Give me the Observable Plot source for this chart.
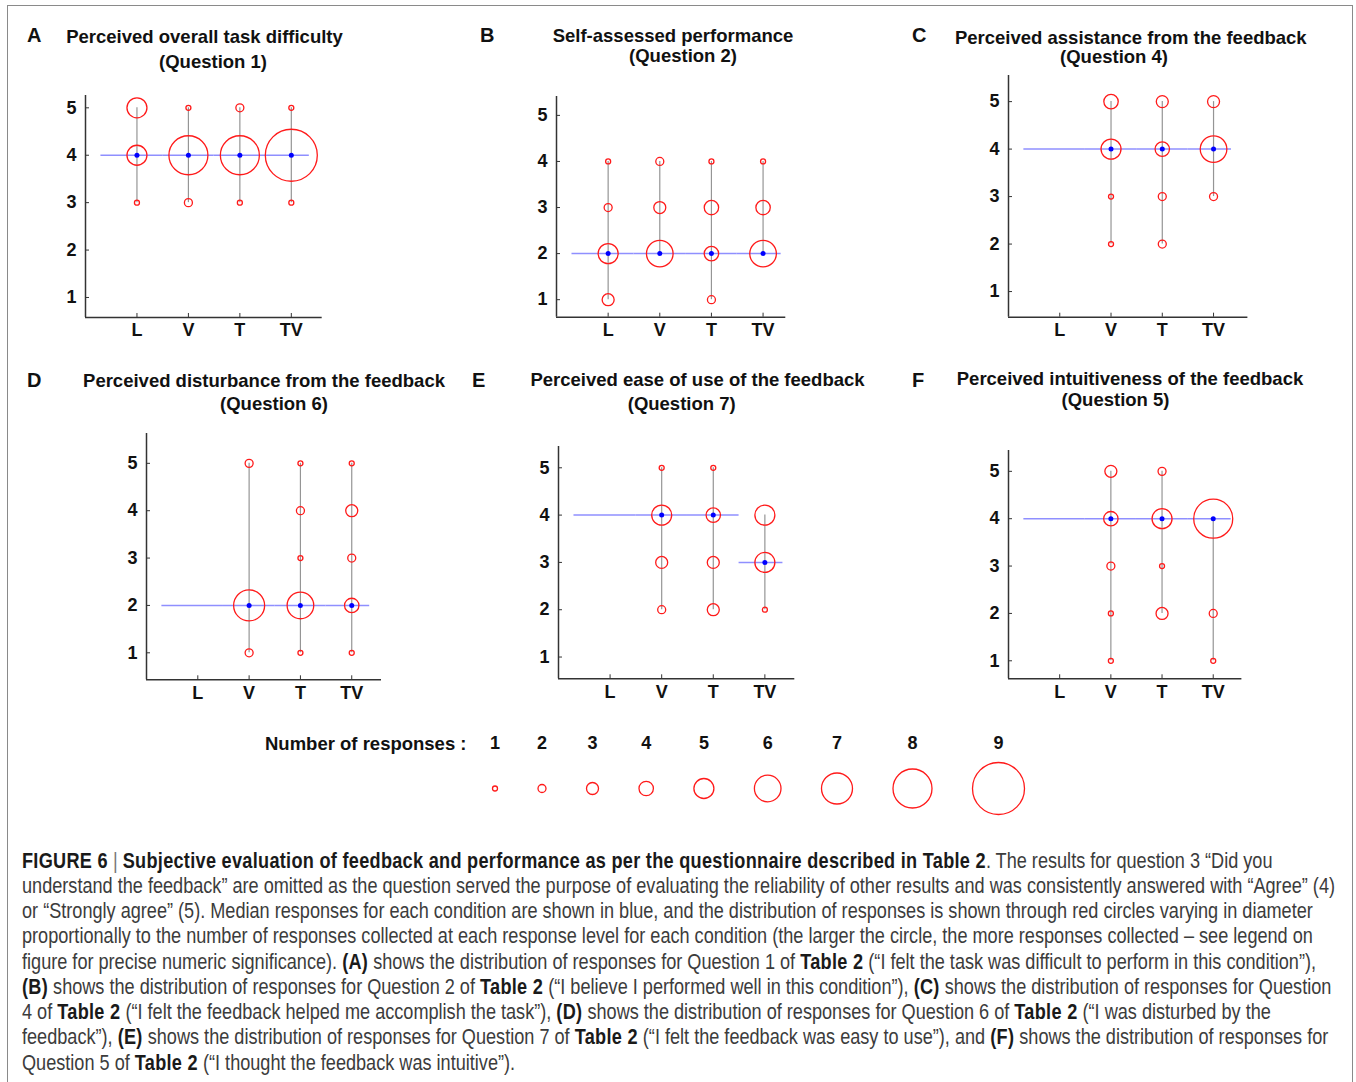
<!DOCTYPE html>
<html><head><meta charset="utf-8">
<script src="https://cdn.jsdelivr.net/npm/d3@7"></script>
<script src="https://cdn.jsdelivr.net/npm/@observablehq/plot@0.6"></script>
<style>
body{margin:0;background:#fff;}
#fig{position:relative;width:1356px;height:1082px;overflow:hidden;font-family:"Liberation Sans",Arial,sans-serif;}
.frame{position:absolute;left:7px;top:5px;width:1346px;height:1100px;border:1px solid #8a8a8a;box-sizing:border-box;}
.lbl{position:absolute;font-weight:bold;font-size:20px;color:#111;line-height:1;transform:translate(0,-50%);}
.ttl{position:absolute;font-weight:bold;font-size:18.5px;color:#111;white-space:nowrap;transform:translate(-50%,-50%);line-height:1;}
.panel{position:absolute;}
.panel svg{overflow:visible;}
#legendTitle{position:absolute;left:265px;top:744px;transform:translate(0,-50%);font-weight:bold;font-size:18.5px;color:#111;line-height:1;white-space:nowrap;}
#caption{position:absolute;left:22px;top:848.5px;font-family:"Liberation Sans",Arial,sans-serif;font-size:21.5px;line-height:25.25px;color:#3c3c3c;transform-origin:0 0;}
#caption div{white-space:nowrap;width:max-content;}
#caption b{color:#1a1a1a;letter-spacing:0.35px;}
</style></head><body><div id="fig"><div class="frame"></div></div>
<script>
// ---------- data ----------
const conditions = ["L", "V", "T", "TV"];
const levels = [1, 2, 3, 4, 5];
const countLevels = [1, 2, 3, 4, 5, 6, 7, 8, 9];
// number of responses per condition [L, V, T, TV] at response levels 1..5
const q1Counts = [[0,0,1,5,5],[0,0,2,8,1],[0,0,1,8,2],[0,0,1,9,1]];
const q1Medians = [4, 4, 4, 4];
const q2Counts = [[3,5,2,1,0],[0,6,3,2,0],[2,4,4,1,0],[0,6,4,1,0]];
const q2Medians = [2, 2, 2, 2];
const q4Counts = [[0,0,0,0,0],[0,1,1,5,4],[0,2,2,4,3],[0,0,2,6,3]];
const q4Medians = [null, 4, 4, 4];
const q6Counts = [[0,0,0,0,0],[2,7,0,0,2],[1,6,1,2,1],[1,4,2,3,1]];
const q6Medians = [null, 2, 2, 2];
const q7Counts = [[0,0,0,0,0],[0,2,3,5,1],[0,3,3,4,1],[0,1,5,5,0]];
const q7Medians = [null, 4, 4, 3];
const q5Counts = [[0,0,0,0,0],[1,1,2,4,3],[0,3,1,5,2],[1,2,0,8,0]];
const q5Medians = [null, 4, 4, 4];

// ---------- styling / layout ----------
const radii = [2.5, 4, 6, 7.2, 10, 13.3, 15.5, 19.5, 26];
const rScaleOpts = {type: "linear", domain: [0, ...countLevels], range: [0, ...radii]};
const RED = "#ff1a1a", BLUE = "#0000ff", MEDLINE = "#8f8fff", STEM = "#959595", AXIS = "#333";
const FONT = "Liberation Sans, Arial, sans-serif";

const panels = [
  {letter: "A", lpos: [27, 35], title: ["Perceived overall task difficulty", "(Question 1)"], t1: [204.5, 36.7], t2: [213, 61.5],
   counts: q1Counts, medians: q1Medians, box: [85, 95, 321.7, 317], xmax: 4.6, ydom: [0.578, 5.26]},
  {letter: "B", lpos: [480, 35], title: ["Self-assessed performance", "(Question 2)"], t1: [673, 36], t2: [683, 55.5],
   counts: q2Counts, medians: q2Medians, box: [555.7, 96, 785, 316.7], xmax: 4.44, ydom: [0.62, 5.41]},
  {letter: "C", lpos: [912, 35], title: ["Perceived assistance from the feedback", "(Question 4)"], t1: [1130.8, 38], t2: [1114, 57],
   counts: q4Counts, medians: q4Medians, box: [1008.3, 75, 1247.7, 316.7], xmax: 4.67, ydom: [0.46, 5.55]},
  {letter: "D", lpos: [27, 380], title: ["Perceived disturbance from the feedback", "(Question 6)"], t1: [264, 381], t2: [274, 404],
   counts: q6Counts, medians: q6Medians, box: [145.7, 432.7, 380.7, 679], xmax: 4.58, ydom: [0.43, 5.63]},
  {letter: "E", lpos: [472, 380], title: ["Perceived ease of use of the feedback", "(Question 7)"], t1: [697.5, 380], t2: [681.7, 404],
   counts: q7Counts, medians: q7Medians, box: [557.7, 446, 794, 678.3], xmax: 4.58, ydom: [0.54, 5.45]},
  {letter: "F", lpos: [912, 380], title: ["Perceived intuitiveness of the feedback", "(Question 5)"], t1: [1130, 379.3], t2: [1115.5, 399.5],
   counts: q5Counts, medians: q5Medians, box: [1008.3, 450, 1241.7, 678.3], xmax: 4.56, ydom: [0.62, 5.44]}
];

const fig = document.getElementById("fig");
function addDiv(cls, text, x, y) {
  const d = document.createElement("div");
  if (cls) d.className = cls;
  d.textContent = text;
  d.style.left = x + "px"; d.style.top = y + "px";
  fig.appendChild(d);
  return d;
}

for (const p of panels) {
  addDiv("lbl", p.letter, p.lpos[0], p.lpos[1]);
  addDiv("ttl", p.title[0], p.t1[0], p.t1[1]);
  addDiv("ttl", p.title[1], p.t2[0], p.t2[1]);

  const [L, T, R, B] = p.box;
  const mL = 45, mR = 35, mT = 15, mB = 35;
  const dots = [], stems = [], meds = [], segs = [];
  p.counts.forEach((arr, ci) => {
    const lv = [];
    arr.forEach((n, li) => { if (n > 0) { dots.push({x: ci + 1, y: levels[li], n}); lv.push(levels[li]); } });
    if (lv.length) stems.push({x: ci + 1, y1: d3.min(lv), y2: d3.max(lv)});
    if (p.medians[ci] != null) meds.push({x: ci + 1, y: p.medians[ci]});
  });
  const filled = p.medians.map((m, i) => m ?? p.medians.slice(i).find(v => v != null));
  filled.forEach((m, i) => segs.push({x1: i === 0 ? 0.3 : i + 0.5, x2: i === filled.length - 1 ? 4.35 : i + 1.5, y: m}));

  const chart = Plot.plot({
    width: (R - L) + mL + mR, height: (B - T) + mT + mB,
    marginLeft: mL, marginRight: mR, marginTop: mT, marginBottom: mB,
    x: {domain: [0, p.xmax]},
    y: {domain: p.ydom},
    r: rScaleOpts,
    style: {overflow: "visible", fontFamily: FONT, background: "transparent", color: "#111"},
    marks: [
      Plot.ruleX([0], {stroke: AXIS, strokeWidth: 1.5}),
      Plot.ruleY([p.ydom[0]], {stroke: AXIS, strokeWidth: 1.5}),
      Plot.axisY({ticks: levels, tickSize: 0, tickPadding: 9, tickFormat: d => String(d), fontSize: 18, fontWeight: "bold", label: null}),
      Plot.axisY({ticks: levels, tickSize: -4, tickFormat: () => "", stroke: AXIS, label: null}),
      Plot.axisX({ticks: [1, 2, 3, 4], tickSize: 0, tickPadding: 6, tickFormat: i => conditions[i - 1], fontSize: 18, fontWeight: "bold", label: null}),
      Plot.axisX({ticks: [1, 2, 3, 4], tickSize: -4, tickFormat: () => "", stroke: AXIS, label: null}),
      Plot.ruleX(stems, {x: "x", y1: "y1", y2: "y2", stroke: STEM, strokeWidth: 1.2}),
      Plot.ruleY(segs, {y: "y", x1: "x1", x2: "x2", stroke: MEDLINE, strokeWidth: 1.5}),
      Plot.dot(dots, {x: "x", y: "y", r: "n", stroke: RED, strokeWidth: 1.3, fill: "none"}),
      Plot.dot(meds, {x: "x", y: "y", r: 2.5, fill: BLUE, stroke: "none"})
    ]
  });
  const holder = document.createElement("div");
  holder.className = "panel";
  holder.style.left = (L - mL) + "px";
  holder.style.top = (T - mT) + "px";
  holder.appendChild(chart);
  fig.appendChild(holder);
}

// ---------- legend ----------
const lt = addDiv("", "Number of responses :", 265, 744);
lt.id = "legendTitle";
const rS = d3.scaleLinear(rScaleOpts.domain, rScaleOpts.range);
const legendItems = [];
let cx = 494.5;
countLevels.forEach((n, i) => {
  if (i > 0) cx += rS(countLevels[i - 1]) + rS(n) + 40.5;
  legendItems.push({n, x: cx});
});
const legTop = 720;
const legend = Plot.plot({
  width: 1356, height: 110, margin: 0,
  x: {type: "identity", axis: null}, y: {type: "identity", axis: null},
  r: rScaleOpts,
  style: {overflow: "visible", fontFamily: FONT, background: "transparent", color: "#111"},
  marks: [
    Plot.text(legendItems, {x: "x", y: () => 743 - legTop, text: d => String(d.n), fontSize: 18, fontWeight: "bold", fill: "#111"}),
    Plot.dot(legendItems, {x: "x", y: () => 788 - legTop, r: "n", stroke: RED, strokeWidth: 1.3, fill: "none"})
  ]
});
const lh = document.createElement("div");
lh.className = "panel"; lh.style.left = "0px"; lh.style.top = legTop + "px";
lh.appendChild(legend);
fig.appendChild(lh);

// ---------- caption ----------
const captionLines = [
  '<b>FIGURE 6</b> <span style="color:#777;font-weight:normal">|</span> <b>Subjective evaluation of feedback and performance as per the questionnaire described in Table 2</b>. The results for question 3 \u201cDid you',
  'understand the feedback\u201d are omitted as the question served the purpose of evaluating the reliability of other results and was consistently answered with \u201cAgree\u201d (4)',
  'or \u201cStrongly agree\u201d (5). Median responses for each condition are shown in blue, and the distribution of responses is shown through red circles varying in diameter',
  'proportionally to the number of responses collected at each response level for each condition (the larger the circle, the more responses collected \u2013 see legend on',
  'figure for precise numeric significance). <b>(A)</b> shows the distribution of responses for Question 1 of <b>Table 2</b> (\u201cI felt the task was difficult to perform in this condition\u201d),',
  '<b>(B)</b> shows the distribution of responses for Question 2 of <b>Table 2</b> (\u201cI believe I performed well in this condition\u201d), <b>(C)</b> shows the distribution of responses for Question',
  '4 of <b>Table 2</b> (\u201cI felt the feedback helped me accomplish the task\u201d), <b>(D)</b> shows the distribution of responses for Question 6 of <b>Table 2</b> (\u201cI was disturbed by the',
  'feedback\u201d), <b>(E)</b> shows the distribution of responses for Question 7 of <b>Table 2</b> (\u201cI felt the feedback was easy to use\u201d), and <b>(F)</b> shows the distribution of responses for',
  'Question 5 of <b>Table 2</b> (\u201cI thought the feedback was intuitive\u201d).'
];
const cap = document.createElement("div");
cap.id = "caption";
cap.innerHTML = captionLines.map(l => "<div>" + l + "</div>").join("");
fig.appendChild(cap);
// condense horizontally so the second line spans the same width as in the figure
const line2 = cap.children[1];
const w2 = line2.getBoundingClientRect().width;
const k = 1313 / w2;
cap.style.transform = "scaleX(" + k + ")";
</script>
</body></html>
